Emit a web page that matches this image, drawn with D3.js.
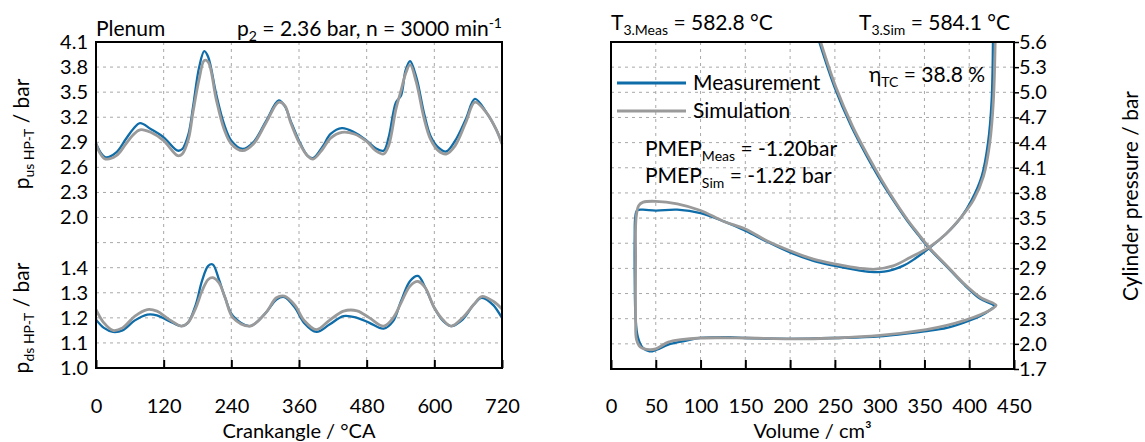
<!DOCTYPE html>
<html>
<head>
<meta charset="UTF-8">
<style>
body { margin: 0; background: #fff; }
svg { font-family: "Lato", sans-serif; }
.grid line { stroke: #a8a8a8; stroke-width: 1; stroke-dasharray: 3,4; }
.tick text { font-family: "Lato", sans-serif; font-size: 20px; fill: #000; }
.frame { fill: none; stroke: #000; stroke-width: 2; }
.meas { fill: none; stroke: #0e6ca8; stroke-width: 2.3; }
.sim { fill: none; stroke: #9a9a9a; stroke-width: 2.8; }
</style>
</head>
<body>
<svg width="1145" height="442"></svg>
<script src="https://cdn.jsdelivr.net/npm/d3@7"></script>
<script>
// ---- left panel: plenum pressures up/downstream of HP turbine
var caUs = [0, 8, 17, 36, 53, 66, 78, 97, 120, 145, 153, 164, 172, 183, 192, 199, 213, 227, 240, 260, 279, 302, 324, 335, 345,
            360, 375, 385, 402, 416, 436, 458, 480, 496, 510, 519, 532, 541, 549, 557, 568, 582, 593, 607, 621, 637, 656, 672, 693, 710, 720];
var pUsMeas = [2.89, 2.78, 2.72, 2.78, 2.94, 3.06, 3.13, 3.06, 2.96, 2.80, 2.82, 3.00, 3.32, 3.80, 3.99, 3.92, 3.48, 3.12, 2.92, 2.82, 2.90, 3.16, 3.40, 3.33, 3.16,
               2.92, 2.74, 2.71, 2.85, 3.00, 3.07, 3.02, 2.92, 2.83, 2.80, 2.96, 3.38, 3.46, 3.76, 3.87, 3.68, 3.24, 2.98, 2.84, 2.79, 2.92, 3.18, 3.42, 3.25, 3.05, 2.89];
var pUsSim  = [2.88, 2.76, 2.70, 2.74, 2.88, 2.99, 3.05, 3.02, 2.92, 2.74, 2.76, 2.94, 3.26, 3.66, 3.88, 3.86, 3.42, 3.06, 2.88, 2.80, 2.88, 3.14, 3.38, 3.34, 3.14,
               2.90, 2.74, 2.70, 2.82, 2.95, 3.02, 3.00, 2.91, 2.80, 2.76, 2.86, 3.30, 3.52, 3.72, 3.83, 3.62, 3.18, 2.94, 2.80, 2.76, 2.86, 3.14, 3.38, 3.25, 3.05, 2.88];

var caDs = [0, 14, 30, 47, 69, 91, 108, 130, 152, 163, 177, 188, 199, 207, 218, 229, 243, 273, 301, 320, 334, 353, 369, 391, 414,
            439, 463, 485, 510, 527, 541, 557, 571, 584, 600, 616, 630, 650, 670, 684, 705, 720];
var pDsMeas = [1.193, 1.16, 1.144, 1.15, 1.19, 1.213, 1.21, 1.187, 1.167, 1.18, 1.253, 1.347, 1.407, 1.413, 1.353, 1.28, 1.207, 1.167, 1.22, 1.273, 1.283, 1.24, 1.18, 1.144, 1.173,
               1.207, 1.20, 1.18, 1.157, 1.187, 1.267, 1.347, 1.367, 1.32, 1.24, 1.187, 1.167, 1.193, 1.253, 1.28, 1.25, 1.20];
var pDsSim  = [1.233, 1.18, 1.15, 1.16, 1.207, 1.233, 1.227, 1.193, 1.167, 1.18, 1.24, 1.307, 1.353, 1.36, 1.34, 1.28, 1.20, 1.167, 1.22, 1.28, 1.287, 1.25, 1.19, 1.153, 1.19,
               1.227, 1.228, 1.20, 1.167, 1.20, 1.26, 1.327, 1.345, 1.32, 1.24, 1.19, 1.167, 1.20, 1.253, 1.285, 1.265, 1.235];

var caTicks = [0, 120, 240, 360, 480, 600, 720];
var usTicks = [2.0, 2.3, 2.6, 2.9, 3.2, 3.5, 3.8, 4.1];
var dsTicks = [1.0, 1.1, 1.2, 1.3, 1.4, 1.5];   // 1.5 = unlabelled grid row

// ---- right panel: pV diagram (gas exchange loop)
var volMeas = [232, 250, 268, 285, 301, 316, 330, 343, 355, 375, 393, 412, 428,
               424, 412, 393, 375, 350, 300, 250, 200, 150, 133, 100, 80, 64, 51, 43, 35, 30, 27.5, 26.5, 26.5, 27, 29,
               35, 50, 74, 100, 126, 150, 174, 200, 226, 250, 275, 288, 305, 326, 340, 355, 374, 391, 403, 414, 421, 425, 426.5];
var pMeas   = [5.62, 5.05, 4.60, 4.25, 3.95, 3.70, 3.48, 3.30, 3.14, 2.92, 2.72, 2.54, 2.45,
               2.41, 2.33, 2.25, 2.19, 2.15, 2.09, 2.07, 2.06, 2.07, 2.08, 2.07, 2.03, 1.99, 1.93, 1.91, 1.96, 2.08, 2.3, 2.8, 3.3, 3.5, 3.59,
               3.60, 3.59, 3.60, 3.56, 3.46, 3.35, 3.22, 3.09, 2.99, 2.93, 2.88, 2.86, 2.86, 2.93, 3.02, 3.14, 3.31, 3.51, 3.72, 4.0, 4.4, 4.9, 5.62];
var volSim  = [233.5, 251.5, 269.5, 286.5, 302.5, 317, 331, 344, 356, 376, 394, 413, 430,
               426, 413, 395, 375, 352, 300, 251, 200, 150, 100, 78, 64, 50, 43, 33, 28.5, 27.5, 27.5, 28, 31,
               36, 50, 74, 100, 126, 150, 174, 200, 226, 251, 278, 295, 315, 334, 355, 374, 391, 405, 416, 423, 427, 429];
var pSim    = [5.62, 5.05, 4.60, 4.25, 3.95, 3.70, 3.48, 3.30, 3.14, 2.92, 2.72, 2.55, 2.46,
               2.42, 2.35, 2.28, 2.22, 2.17, 2.10, 2.07, 2.06, 2.07, 2.07, 2.05, 2.02, 1.94, 1.93, 1.96, 2.05, 2.3, 3.0, 3.5, 3.65,
               3.69, 3.70, 3.67, 3.59, 3.46, 3.37, 3.23, 3.11, 3.01, 2.95, 2.90, 2.89, 2.93, 3.03, 3.15, 3.31, 3.51, 3.72, 4.0, 4.4, 4.9, 5.62];

var volTicks = [0, 50, 100, 150, 200, 250, 300, 350, 400, 450];
var cylTicks = [1.7, 2.0, 2.3, 2.6, 2.9, 3.2, 3.5, 3.8, 4.1, 4.4, 4.7, 5.0, 5.3, 5.6];

var svg = d3.select("svg");
var BLUE = "#0e6ca8", GREY = "#9a9a9a";

function richText(sel, x, y, parts, anchor) {
  var t = sel.append("text").attr("x", x).attr("y", y)
      .attr("font-size", 21).attr("text-anchor", anchor || "start");
  var cur = 0;
  parts.forEach(function(p) {
    var shift = p[1] === "sub" ? 5 : p[1] === "sup" ? -8 : 0;
    var ts = t.append("tspan").text(p[0]).attr("dy", shift - cur);
    if (p[1]) ts.attr("font-size", 14);
    cur = shift;
  });
  return t;
}

// ================= LEFT PANEL =================
var L = {x0: 96, x1: 502, y0: 42, y1: 368};
var row = (L.y1 - L.y0) / 13;
var x = d3.scaleLinear().domain([0, 720]).range([L.x0, L.x1]);
var yUs = d3.scaleLinear().domain([2.0, 4.1]).range([L.y0 + 7 * row, L.y0]);
var yDs = d3.scaleLinear().domain([1.0, 1.4]).range([L.y1, L.y1 - 4 * row]);

var gl = svg.append("g");
gl.append("g").attr("class", "grid").selectAll("line").data(caTicks.slice(1, -1)).enter().append("line")
  .attr("x1", x).attr("x2", x).attr("y1", L.y0).attr("y2", L.y1);
gl.append("g").attr("class", "grid").selectAll("line").data(usTicks.slice(0, -1)).enter().append("line")
  .attr("x1", L.x0).attr("x2", L.x1).attr("y1", yUs).attr("y2", yUs);
gl.append("g").attr("class", "grid").selectAll("line").data(dsTicks.slice(1)).enter().append("line")
  .attr("x1", L.x0).attr("x2", L.x1).attr("y1", yDs).attr("y2", yDs);

var lineUs = function(vals) {
  return d3.line().curve(d3.curveCatmullRom).x(function(d, i) { return x(caUs[i]); }).y(function(d) { return yUs(d); })(vals);
};
var lineDs = function(vals) {
  return d3.line().curve(d3.curveCatmullRom).x(function(d, i) { return x(caDs[i]); }).y(function(d) { return yDs(d); })(vals);
};
gl.append("path").attr("class", "meas").attr("d", lineUs(pUsMeas));
gl.append("path").attr("class", "sim").attr("d", lineUs(pUsSim));
gl.append("path").attr("class", "meas").attr("d", lineDs(pDsMeas));
gl.append("path").attr("class", "sim").attr("d", lineDs(pDsSim));

gl.append("g").attr("transform", "translate(" + L.x0 + ",0)")
  .call(d3.axisLeft(yUs).tickValues(usTicks).tickSize(0).tickPadding(8).tickFormat(d3.format(".1f")))
  .call(function(g) { g.select(".domain").remove(); });
gl.append("g").attr("transform", "translate(" + L.x0 + ",0)")
  .call(d3.axisLeft(yDs).tickValues(dsTicks.slice(0, -1)).tickSize(0).tickPadding(8).tickFormat(d3.format(".1f")))
  .call(function(g) { g.select(".domain").remove(); });
gl.append("g").attr("transform", "translate(0," + L.y1 + ")")
  .call(d3.axisBottom(x).tickValues(caTicks).tickSize(-8).tickPadding(31))
  .call(function(g) { g.select(".domain").remove(); g.selectAll(".tick line").attr("stroke", "#000").attr("stroke-width", 2); });
gl.append("rect").attr("class", "frame").attr("x", L.x0).attr("y", L.y0)
  .attr("width", L.x1 - L.x0).attr("height", L.y1 - L.y0);

gl.append("text").attr("x", (L.x0 + L.x1) / 2).attr("y", 438).attr("text-anchor", "middle")
  .attr("font-size", 20).text("Crankangle / °CA");
richText(gl, 96, 36, [["Plenum"]]);
richText(gl, 502, 36, [["p"], ["2", "sub"], [" = 2.36 bar, n = 3000 min"], ["-1", "sup"]], "end");
richText(gl.append("g").attr("transform", "translate(29,134) rotate(-90)"), 0, 0,
  [["p"], ["us HP-T", "sub"], [" / bar"]], "middle");
richText(gl.append("g").attr("transform", "translate(29,318) rotate(-90)"), 0, 0,
  [["p"], ["ds HP-T", "sub"], [" / bar"]], "middle");

// ================= RIGHT PANEL =================
var R = {x0: 611, x1: 1014, y0: 42, y1: 369};
var xv = d3.scaleLinear().domain([0, 450]).range([R.x0, R.x1]);
var yc = d3.scaleLinear().domain([1.7, 5.6]).range([R.y1, R.y0]);

var gr = svg.append("g");
gr.append("defs").append("clipPath").attr("id", "clipR").append("rect")
  .attr("x", R.x0).attr("y", R.y0).attr("width", R.x1 - R.x0).attr("height", R.y1 - R.y0);
gr.append("g").attr("class", "grid").selectAll("line").data(volTicks.slice(1, -1)).enter().append("line")
  .attr("x1", xv).attr("x2", xv).attr("y1", R.y0).attr("y2", R.y1);
gr.append("g").attr("class", "grid").selectAll("line").data(cylTicks.slice(1, -1)).enter().append("line")
  .attr("x1", R.x0).attr("x2", R.x1).attr("y1", yc).attr("y2", yc);

var pv = function(vs, ps) {
  return d3.line().curve(d3.curveCatmullRom.alpha(0.5))
    .x(function(d, i) { return xv(vs[i]); }).y(function(d, i) { return yc(ps[i]); })(vs);
};
var plot = gr.append("g").attr("clip-path", "url(#clipR)");
plot.append("path").attr("class", "meas").attr("d", pv(volMeas, pMeas));
plot.append("path").attr("class", "sim").attr("d", pv(volSim, pSim));

gr.append("g").attr("transform", "translate(" + R.x1 + ",0)")
  .call(d3.axisRight(yc).tickValues(cylTicks).tickSize(5).tickPadding(0).tickFormat(d3.format(".1f")))
  .call(function(g) { g.select(".domain").remove(); g.selectAll(".tick line").attr("stroke", "#000").attr("stroke-width", 1.5); });
gr.append("g").attr("transform", "translate(0," + R.y1 + ")")
  .call(d3.axisBottom(xv).tickValues(volTicks).tickSize(-9).tickPadding(30))
  .call(function(g) { g.select(".domain").remove(); g.selectAll(".tick line").attr("stroke", "#000").attr("stroke-width", 2); });
gr.append("rect").attr("class", "frame").attr("x", R.x0).attr("y", R.y0)
  .attr("width", R.x1 - R.x0).attr("height", R.y1 - R.y0);

// legend
gr.append("line").attr("x1", 617).attr("x2", 686).attr("y1", 83).attr("y2", 83).attr("stroke", BLUE).attr("stroke-width", 3);
gr.append("line").attr("x1", 617).attr("x2", 686).attr("y1", 111).attr("y2", 111).attr("stroke", GREY).attr("stroke-width", 3);
richText(gr, 693, 90, [["Measurement"]]);
richText(gr, 693, 118, [["Simulation"]]);

richText(gr, 869, 82, [["η"], ["TC", "sub"], [" = 38.8 %"]]);
richText(gr, 645, 156, [["PMEP"], ["Meas", "sub"], [" = -1.20bar"]]);
richText(gr, 645, 183, [["PMEP"], ["Sim", "sub"], [" = -1.22 bar"]]);
richText(gr, 611, 30, [["T"], ["3.Meas", "sub"], [" = 582.8 °C"]]);
richText(gr, 1010, 30, [["T"], ["3.Sim", "sub"], [" = 584.1 °C"]], "end");

gr.append("text").attr("x", (R.x0 + R.x1) / 2).attr("y", 438).attr("text-anchor", "middle")
  .attr("font-size", 20).text("Volume / cm³");
gr.append("text").attr("transform", "translate(1138,196) rotate(-90)").attr("text-anchor", "middle")
  .attr("font-size", 21).text("Cylinder pressure / bar");
</script>
</body>
</html>
